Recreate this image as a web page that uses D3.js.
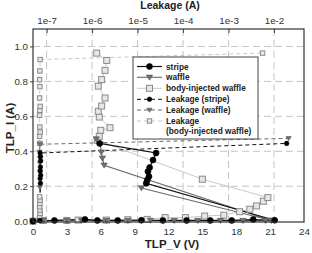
<!DOCTYPE html>
<html>
<head>
<meta charset="utf-8">
<script src="https://cdn.jsdelivr.net/npm/d3@7"></script>
<style>
  body { margin: 0; background: #fff; }
  text { font-family: "Liberation Sans", Arial, sans-serif; }
</style>
</head>
<body>
<svg id="chart" width="312" height="253"></svg>
<script>
// TLP I-V data (V, A)
var stripeV = [0, 1.9, 4.6, 5.7, 7.5, 9.6, 11.5, 13.6, 15.7, 17.6, 19.5, 21.4, 10.03, 10.12, 10.27, 10.18, 10.33, 10.63, 10.9, 5.9];
var stripeI = [0, 0.004, 0.01, 0.004, 0.004, 0.005, 0.004, 0.004, 0.004, 0.004, 0.009, 0.005, 0.217, 0.236, 0.255, 0.284, 0.307, 0.35, 0.39, 0.445];
var waffleV = [0, 0.9, 3.0, 4.3, 6.5, 8.4, 10.4, 12.5, 14.6, 16.6, 18.6, 20.6, 21.1, 9.6, 21.1, 6.3, 6.15, 6.05, 5.95, 5.6];
var waffleI = [0, 0.003, 0.003, 0.004, 0.003, 0.003, 0.004, 0.003, 0.003, 0.003, 0.003, 0.003, 0.004, 0.19, 0.004, 0.32, 0.36, 0.395, 0.44, 0.47];
var bodyV = [0, 0.9, 3.0, 4.0, 6.5, 8.4, 10.1, 11.7, 13.5, 15.2, 16.9, 18.3, 19.2, 19.8, 20.4, 20.8, 15.0, 5.7, 5.87, 6.0, 6.82, 5.87, 5.78, 6.08, 6.38, 5.78, 6.08, 6.38, 6.53, 5.64];
var bodyI = [0, 0.004, 0.004, 0.006, 0.006, 0.008, 0.01, 0.02, 0.02, 0.029, 0.034, 0.054, 0.068, 0.087, 0.114, 0.135, 0.24, 0.463, 0.486, 0.52, 0.535, 0.596, 0.629, 0.659, 0.705, 0.773, 0.81, 0.863, 0.92, 0.962];

// leakage after each pulse (A) vs TLP current (A)
var stripeLeakI = [0.003, 0.217, 0.244, 0.263, 0.287, 0.31, 0.345, 0.37, 0.39, 0.445];
var stripeLeak = [7.1e-8, 7.3e-8, 7.2e-8, 7.4e-8, 7.2e-8, 7.3e-8, 7.4e-8, 7.3e-8, 7.2e-8, 1.9e-2];
var waffleLeakI = [0.003, 0.193, 0.282, 0.331, 0.358, 0.396, 0.44, 0.474];
var waffleLeak = [7.0e-8, 7.1e-8, 7.2e-8, 7.1e-8, 7.2e-8, 7.0e-8, 7.1e-8, 2.1e-2];
var bodyLeakI = [0.006, 0.025, 0.044, 0.063, 0.082, 0.101, 0.12, 0.139, 0.445, 0.486, 0.51, 0.539, 0.606, 0.634, 0.657, 0.705, 0.77, 0.81, 0.86, 0.925, 0.962];
var bodyLeak = [7.1e-8, 7.0e-8, 7.2e-8, 7.1e-8, 7.0e-8, 7.1e-8, 7.2e-8, 7.0e-8, 7.1e-8, 7.0e-8, 7.2e-8, 7.1e-8, 7.0e-8, 7.1e-8, 7.2e-8, 7.0e-8, 7.1e-8, 7.0e-8, 7.1e-8, 7.2e-8, 5.6e-3];

var xTicks = [0, 3, 6, 9, 12, 15, 18, 21, 24];
var yTicks = [0, 0.2, 0.4, 0.6, 0.8, 1.0];
var leakTicks = [1e-7, 1e-6, 1e-5, 1e-4, 1e-3, 1e-2];
var legendNames = ["stripe", "waffle", "body-injected waffle", "Leakage (stripe)", "Leakage (waffle)", "Leakage", "(body-injected waffle)"];

var svg = d3.select("#chart");
var L = 33, R = 304, T = 29, B = 222;

var x = d3.scaleLinear().domain([0, 24]).range([L, R]);
var xl = d3.scaleLog().domain([Math.pow(10, -7.3), Math.pow(10, -1.34)]).range([L, R]);
var y = d3.scaleLinear().domain([-0.005, 1.1]).range([B, T]);

// grid
var grid = svg.append("g").attr("stroke", "#c4c4c4").attr("stroke-width", 1).attr("stroke-dasharray", "7,4");
grid.selectAll("line.h").data(yTicks.filter(d => d > 0)).enter().append("line")
  .attr("x1", L).attr("x2", R).attr("y1", d => y(d)).attr("y2", d => y(d));
grid.selectAll("line.v").data(leakTicks).enter().append("line")
  .attr("x1", d => xl(d)).attr("x2", d => xl(d)).attr("y1", T).attr("y2", B);

// axes
var axBottom = svg.append("g").attr("transform", "translate(0," + B + ")")
  .call(d3.axisBottom(x).tickValues(xTicks).tickSize(0).tickPadding(6).tickFormat(d3.format("d")));
var axLeft = svg.append("g").attr("transform", "translate(" + L + ",0)")
  .call(d3.axisLeft(y).tickValues(yTicks).tickSize(3).tickPadding(2).tickFormat(d3.format(".1f")));
var axTop = svg.append("g").attr("transform", "translate(0," + T + ")")
  .call(d3.axisTop(xl).tickValues(leakTicks).tickSize(-4).tickPadding(5)
    .tickFormat(d => "1e" + Math.round(Math.log10(d))));
[axBottom, axLeft, axTop].forEach(function (g) {
  g.select(".domain").remove();
  g.selectAll("text").attr("font-size", 9.8).attr("fill", "#333");
  g.selectAll("line").attr("stroke", "#444");
});

var line = d3.line().x(d => d[0]).y(d => d[1]);

function tri(s) { return "M" + (-s) + "," + (-s * 0.7) + "L" + s + "," + (-s * 0.7) + "L0," + (s * 0.9) + "Z"; }

function markers(g, pts, type, size, fill, stroke) {
  pts.forEach(function (p) {
    if (type === "circle") {
      g.append("circle").attr("cx", p[0]).attr("cy", p[1]).attr("r", size).attr("fill", fill).attr("stroke", stroke).attr("stroke-width", 0.6);
    } else if (type === "tri") {
      g.append("path").attr("transform", "translate(" + p[0] + "," + p[1] + ")").attr("d", tri(size)).attr("fill", fill).attr("stroke", stroke).attr("stroke-width", 0.6);
    } else {
      g.append("rect").attr("x", p[0] - size).attr("y", p[1] - size).attr("width", size * 2).attr("height", size * 2)
        .attr("fill", fill).attr("stroke", stroke).attr("stroke-width", 1);
    }
  });
}

var series = [
  { pts: bodyV.map((v, i) => [x(v), y(bodyI[i])]), color: "#c8c8c8", w: 1, dash: null, type: "square", size: 3, fill: "#e6e6e6", stroke: "#8a8a8a" },
  { pts: bodyLeak.map((v, i) => [xl(v), y(bodyLeakI[i])]), color: "#c8c8c8", w: 1, dash: "4,3", type: "square", size: 2.2, fill: "#e6e6e6", stroke: "#8a8a8a" },
  { pts: waffleV.map((v, i) => [x(v), y(waffleI[i])]), color: "#6a6a6a", w: 1.1, dash: null, type: "tri", size: 3.2, fill: "#707070", stroke: "#555" },
  { pts: waffleLeak.map((v, i) => [xl(v), y(waffleLeakI[i])]), color: "#6a6a6a", w: 1, dash: "4,3", type: "tri", size: 2.6, fill: "#707070", stroke: "#555" },
  { pts: stripeV.map((v, i) => [x(v), y(stripeI[i])]), color: "#111", w: 1.2, dash: null, type: "circle", size: 3, fill: "#000", stroke: "#000" },
  { pts: stripeLeak.map((v, i) => [xl(v), y(stripeLeakI[i])]), color: "#111", w: 1, dash: "4,3", type: "circle", size: 2.3, fill: "#000", stroke: "#000" }
];

var plot = svg.append("g");
series.forEach(function (s) {
  plot.append("path").attr("d", line(s.pts)).attr("fill", "none").attr("stroke", s.color)
    .attr("stroke-width", s.w).attr("stroke-dasharray", s.dash);
});
series.forEach(function (s) {
  markers(plot.append("g"), s.pts, s.type, s.size, s.fill, s.stroke);
});

// legend
var lg = svg.append("g");
lg.append("rect").attr("x", 133).attr("y", 57).attr("width", 125).attr("height", 82)
  .attr("fill", "#fff").attr("stroke", "#444").attr("stroke-width", 1);
var legendY = [66.5, 77.3, 88.3, 99.3, 110, 121, 130.7];
var legendStyle = [series[4], series[2], series[0], series[5], series[3], series[1]];
legendStyle.forEach(function (s, i) {
  var ly = legendY[i];
  lg.append("line").attr("x1", 137).attr("x2", 162).attr("y1", ly).attr("y2", ly)
    .attr("stroke", s.color).attr("stroke-width", s.w).attr("stroke-dasharray", s.dash);
  markers(lg, [[149.5, ly]], s.type, s.size, s.fill, s.stroke);
});
lg.selectAll("text").data(legendNames).enter().append("text")
  .attr("x", 166).attr("y", (d, i) => legendY[i] + 3)
  .attr("font-size", 8.3).attr("font-weight", "bold").attr("fill", "#222")
  .text(d => d);

// frame
svg.append("rect").attr("x", L).attr("y", T).attr("width", R - L).attr("height", B - T)
  .attr("fill", "none").attr("stroke", "#333").attr("stroke-width", 1.2);

// titles
svg.append("text").attr("x", 172).attr("y", 248).attr("text-anchor", "middle")
  .attr("font-size", 11.5).attr("font-weight", "bold").attr("fill", "#222").text("TLP_V (V)");
svg.append("text").attr("transform", "translate(14,128) rotate(-90)").attr("text-anchor", "middle")
  .attr("font-size", 11.5).attr("font-weight", "bold").attr("fill", "#222").text("TLP_I (A)");
svg.append("text").attr("x", 170).attr("y", 9).attr("text-anchor", "middle")
  .attr("font-size", 10.5).attr("font-weight", "bold").attr("fill", "#222").text("Leakage (A)");
</script>
</body>
</html>
